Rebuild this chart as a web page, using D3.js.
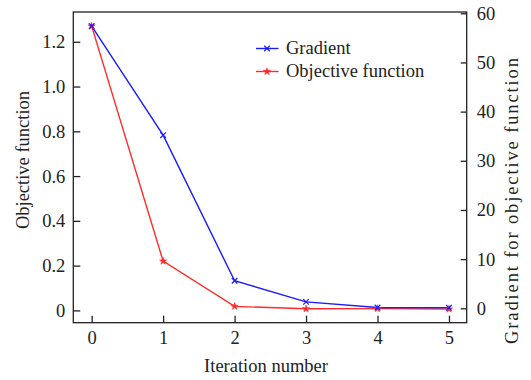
<!DOCTYPE html>
<html>
<head>
<meta charset="utf-8">
<script src="https://cdn.jsdelivr.net/npm/d3@7/dist/d3.min.js"></script>
<style>
html,body{margin:0;padding:0;background:#fff;}
svg{display:block;font-family:"Liberation Serif","Times New Roman",serif;}
svg text{font-family:"Liberation Serif","Times New Roman",serif;}
</style>
</head>
<body>
<svg id="chart" width="531" height="380"></svg>
<script>
const iterations = [0, 1, 2, 3, 4, 5];
const objectiveValues = [1.27, 0.22, 0.018, 0.007, 0.008, 0.006];
const gradientValues = [57.4, 35.2, 5.6, 1.3, 0.15, 0.1];
const xTicks = [0, 1, 2, 3, 4, 5];
const xTickLabels = ["0", "1", "2", "3", "4", "5"];
const leftTicks = [0, 0.2, 0.4, 0.6, 0.8, 1.0, 1.2];
const leftTickLabels = ["0", "0.2", "0.4", "0.6", "0.8", "1.0", "1.2"];
const rightTicks = [0, 10, 20, 30, 40, 50, 60];
const rightTickLabels = ["0", "10", "20", "30", "40", "50", "60"];
const seriesNames = ["Gradient", "Objective function"];

const W = 531, H = 380;
const m = {top: 12, right: 64.3, bottom: 57.3, left: 73.3};
const iw = W - m.left - m.right, ih = H - m.top - m.bottom;
const FS = 18.5;
const FONT = '"Liberation Serif","Times New Roman",serif';
const INK = "#222";

const svg = d3.select("#chart");
const g = svg.append("g").attr("transform", `translate(${m.left},${m.top})`);

const x = d3.scaleLinear().domain([-0.257, 5.248]).range([0, iw]);
const yL = d3.scaleLinear().domain([-0.055, 1.333]).range([ih, 0]);
const yR = d3.scaleLinear().domain([-2.93, 60.26]).range([ih, 0]);

// frame
g.append("rect").attr("x", 0).attr("y", 0).attr("width", iw).attr("height", ih)
  .attr("fill", "none").attr("stroke", INK).attr("stroke-width", 1.3);

// axes
const ax = g.append("g").attr("transform", `translate(0,${ih})`)
  .call(d3.axisBottom(x).tickValues(xTicks).tickFormat((d,i)=>xTickLabels[i]).tickSizeInner(-7).tickSizeOuter(0).tickPadding(8));
const al = g.append("g")
  .call(d3.axisLeft(yL).tickValues(leftTicks).tickFormat((d,i)=>leftTickLabels[i]).tickSizeInner(-7).tickSizeOuter(0).tickPadding(8));
const ar = g.append("g").attr("transform", `translate(${iw},0)`)
  .call(d3.axisRight(yR).tickValues(rightTicks).tickFormat((d,i)=>rightTickLabels[i]).tickSizeInner(-6).tickSizeOuter(0).tickPadding(10));
[ax, al, ar].forEach(a => {
  a.attr("font-family", FONT).attr("font-size", FS);
  a.select(".domain").remove();
  a.selectAll(".tick line").attr("stroke", INK).attr("stroke-width", 1.3);
  a.selectAll(".tick text").attr("fill", INK);
});

// axis titles
svg.append("text").attr("x", 266).attr("y", 371.5)
  .attr("text-anchor", "middle").attr("fill", INK).attr("font-family", FONT).attr("font-size", FS).text("Iteration number");
svg.append("text").attr("transform", `translate(29,160) rotate(-90)`)
  .attr("text-anchor", "middle").attr("fill", INK).attr("font-family", FONT).attr("font-size", FS).text("Objective function");
svg.append("text").attr("transform", `translate(518,201) rotate(-90)`)
  .attr("text-anchor", "middle").attr("fill", INK).attr("font-family", FONT).attr("font-size", FS)
  .attr("textLength", 286).attr("lengthAdjust", "spacing")
  .text("Gradient for objective function");

const blue = "#1a1aff", red = "#ff2a2a";
const lineG = d3.line().x((d,i)=>x(iterations[i])).y(d=>yR(d));
const lineO = d3.line().x((d,i)=>x(iterations[i])).y(d=>yL(d));

g.append("path").datum(objectiveValues).attr("d", lineO).attr("fill", "none").attr("stroke", red).attr("stroke-width", 1.4);
g.append("path").datum(gradientValues).attr("d", lineG).attr("fill", "none").attr("stroke", blue).attr("stroke-width", 1.4);

const cross = d3.symbol().type(d3.symbolX).size(22);
const star = d3.symbol().type(d3.symbolStar).size(16);
g.selectAll(".om").data(objectiveValues).join("path")
  .attr("transform", (d,i)=>`translate(${x(iterations[i])},${yL(d)})`)
  .attr("d", star).attr("fill", red).attr("stroke", red).attr("stroke-width", 0.6);
g.selectAll(".gm").data(gradientValues).join("path")
  .attr("transform", (d,i)=>`translate(${x(iterations[i])},${yR(d)})`)
  .attr("d", cross).attr("fill", blue).attr("stroke", blue).attr("stroke-width", 1.2);

// legend
const lg = svg.append("g");
const legendColors = [blue, red];
const legendSym = [cross, star];
seriesNames.forEach((name, i) => {
  const yy = 48.5 + i * 23;
  lg.append("line").attr("x1", 256).attr("x2", 278.5).attr("y1", yy).attr("y2", yy)
    .attr("stroke", legendColors[i]).attr("stroke-width", 1.4);
  lg.append("path").attr("transform", `translate(267,${yy})`).attr("d", legendSym[i])
    .attr("fill", legendColors[i]).attr("stroke", legendColors[i]).attr("stroke-width", i===0?1.2:0.6);
  lg.append("text").attr("x", 286).attr("y", yy + 5.5).attr("fill", INK)
    .attr("font-family", FONT).attr("font-size", FS).text(name);
});
</script>
</body>
</html>
